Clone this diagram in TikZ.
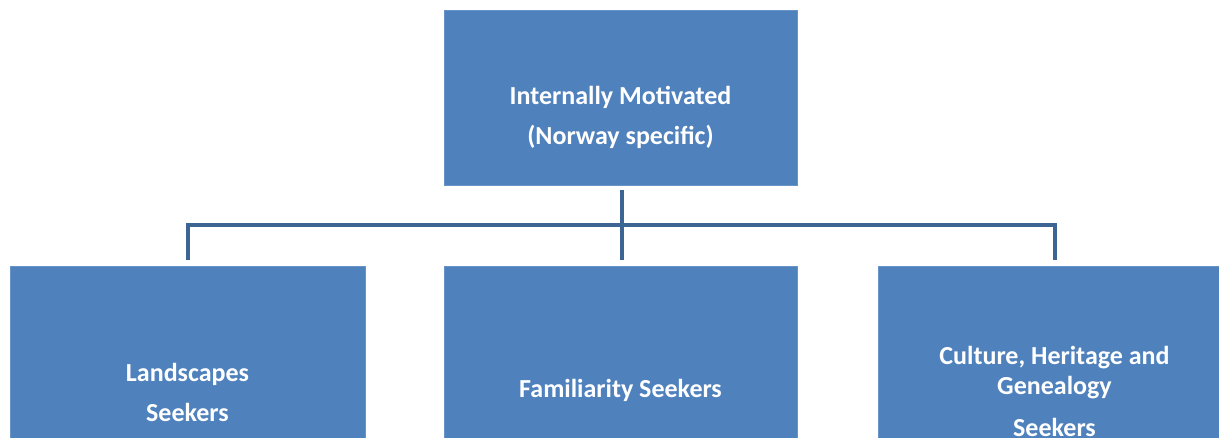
\documentclass[tikz,border=0pt]{standalone}
\usepackage{fontspec}
\setmainfont{Carlito}
\definecolor{boxblue}{RGB}{79,129,189}
\definecolor{linkblue}{RGB}{60,101,148}
\tikzstyle{every node}=[inner sep=0pt,outer sep=0pt]
\tikzstyle{group}=[fill=boxblue,draw=boxblue!85!white,minimum width=353pt,minimum height=175pt]
\tikzstyle{caption}=[text=white,align=center,font=\bfseries\fontsize{26}{40}\selectfont]
\tikzstyle{link}=[draw=linkblue,line width=4pt]

\begin{document}
\begin{tikzpicture}[x=1pt,y=-1pt]
  \useasboundingbox (0,0) rectangle (1219,437);
  \clip (0,0) rectangle (1219,437);
  % boxes
  \node[group] (motiv) at (620.5,97.5) {};
  \node[group,minimum width=355pt] (land) at (187.5,353.5) {};
  \node[group] (famil) at (620.5,353.5) {};
  \node[group] (cult) at (1054.5,353.5) {};
  % texts
  \node[caption] (motivtext) at (620.5,117) {Internally Motivated\\(Norway specific)};
  \node[caption] (landtext) at (187.5,392) {Landscapes\\Seekers};
  \node[caption] (familtext) at (620.5,390) {Familiarity Seekers};
  \node[caption,font=\bfseries\fontsize{26}{30}\selectfont] (culttext) at (1054.5,391)
    {Culture, Heritage and\\Genealogy\\[12pt]Seekers};
  % connectors
  \draw[link] ([xshift=1.5pt,yshift=-5pt]motiv.south) -- ([xshift=1.5pt,yshift=6pt]famil.north);
  \draw[link] ([yshift=6pt]land.north) |- ([yshift=-40pt]motiv.south)
    -| ([yshift=6pt]cult.north);
\end{tikzpicture}
\end{document}
